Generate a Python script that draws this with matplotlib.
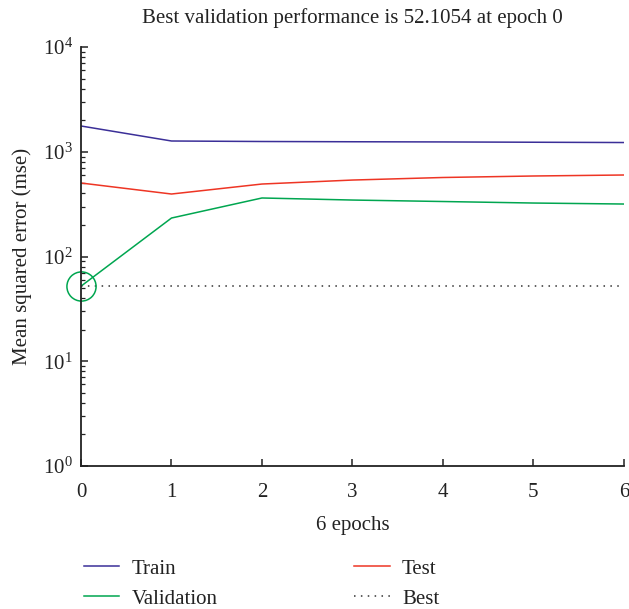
import matplotlib
matplotlib.use("Agg")
import matplotlib.pyplot as plt
from matplotlib.lines import Line2D
from matplotlib.ticker import LogLocator

plt.rcParams['font.family'] = ['Liberation Serif', 'DejaVu Serif']
plt.rcParams['mathtext.fontset'] = 'stix'

epochs = [0, 1, 2, 3, 4, 5, 6]
train = [1762, 1267, 1253, 1246, 1241, 1233, 1225]
validation = [52.1054, 233, 362, 346, 335, 324, 317]
test = [503, 395, 492, 537, 568, 587, 600]
best_epoch = 0
best_value = 52.1054

c_train = '#3b2f98'
c_val = '#00a650'
c_test = '#ee3524'

fig = plt.figure(figsize=(6.29, 6.09), dpi=100)
ax = fig.add_axes([0.1288, 0.2348, 0.863, 0.688])

ax.plot(epochs, train, color=c_train, lw=1.1)
ax.plot(epochs, validation, color=c_val, lw=1.1)
ax.plot(epochs, test, color=c_test, lw=1.1)
ax.axhline(best_value, color='#333333', lw=1.1, ls=(0, (1, 3.5)))
ax.plot([best_epoch], [best_value], marker='o', ms=21, mfc='none',
        mec=c_val, mew=1.1, clip_on=False)

ax.set_yscale('log')
ax.set_ylim(1, 1e4)
ax.set_xlim(0, 6)
ax.set_xticks(epochs)
ax.yaxis.set_major_locator(LogLocator(base=10, numticks=10))
ax.yaxis.set_minor_locator(LogLocator(base=10, subs=range(2, 10), numticks=20))

for s in ['top', 'right']:
    ax.spines[s].set_visible(False)
for s in ['left', 'bottom']:
    ax.spines[s].set_linewidth(1.3)
    ax.spines[s].set_color('#222222')

ax.tick_params(which='both', direction='in', colors='#222222', labelsize=15)
ax.tick_params(which='major', length=5, width=1.1)
ax.tick_params(which='minor', length=3, width=0.9)
ax.tick_params(axis='y', which='major', pad=6)
ax.tick_params(axis='x', which='major', pad=12)

ax.set_title('Best validation performance is 52.1054 at epoch 0',
             fontsize=15, color='#222222', y=1.025, va='bottom')
ax.set_xlabel('6 epochs', fontsize=15, color='#222222', labelpad=10)
ax.set_ylabel('Mean squared error (mse)', fontsize=15, color='#222222', labelpad=8)

h_train = Line2D([], [], color=c_train, lw=1.1)
h_test = Line2D([], [], color=c_test, lw=1.1)
h_val = Line2D([], [], color=c_val, lw=1.1)
h_best = Line2D([], [], color='#333333', lw=1.1, ls=(0, (1, 3.5)))
# columns fill top-to-bottom: left column Train/Validation, right column Test/Best
handles = [h_train, h_val, h_test, h_best]
labels = ['Train', 'Validation', 'Test', 'Best']
fig.legend(handles, labels, ncol=2, loc='lower left',
           bbox_to_anchor=(0.12, -0.013), frameon=False, fontsize=15,
           handlelength=1.7, handletextpad=0.6, columnspacing=6.55,
           labelspacing=0.5, borderaxespad=0.0, labelcolor='#222222')

fig.savefig('out.png', dpi=100)
